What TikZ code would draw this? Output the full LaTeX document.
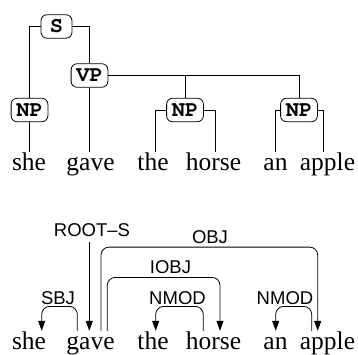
\documentclass[tikz,border=0pt]{standalone}
\usepackage{fontspec}
\setmainfont{Liberation Serif}
\newfontfamily\labfont{Liberation Sans}
\newfontfamily\cursorbold{texgyrecursor-bold.otf}
\newcommand\catfont{\cursorbold\fontsize{22pt}{24pt}\selectfont}
\usetikzlibrary{arrows.meta}
\begin{document}
\begin{tikzpicture}[x=1pt,y=-1pt,
  cat/.style={draw,line width=0.8pt,rounded corners=6pt,minimum height=23.5pt,minimum width=31pt,inner xsep=5.2pt,inner ysep=0pt,font=\catfont},
  word/.style={anchor=base,inner sep=0pt,text height=18pt,text depth=6pt,font=\fontsize{25.5pt}{28pt}\selectfont},
  lab/.style={anchor=base,inner sep=0pt,font=\labfont\fontsize{18.5pt}{20pt}\selectfont},
  tl/.style={line width=0.8pt},
  arr/.style={line width=0.8pt,-{Triangle[length=10pt,width=7pt]},rounded corners=8pt}]
\useasboundingbox (0,0) rectangle (358,354);
% ---------- constituency tree ----------
\node[word] (w1) at (29,170.5) {she};
\node[word] (w2) at (90.5,170.5) {gave};
\node[word] (w3) at (153,170.5) {the};
\node[word] (w4) at (213.5,170.5) {horse};
\node[word] (w5) at (275.5,170.5) {an};
\node[word] (w6) at (327.5,170.5) {apple};
\node[cat] (S) at (56.5,26.5) {S};
\node[cat] (VP) at (89.5,75.5) {VP};
\node[cat] (NP1) at (29.5,110) {NP};
\node[cat] (NP2) at (185,110) {NP};
\node[cat] (NP3) at (299,110) {NP};
\draw[tl] (S.west) -| (NP1.north);
\draw[tl] (S.east) -| (VP.north);
\draw[tl] (VP.east) -| (NP2.north);
\draw[tl] (VP.east) -| (NP3.north);
\draw[tl] (NP1.south) -- (NP1.south |- w1.north);
\draw[tl] (VP.south) -- (VP.south |- w2.north);
\draw[tl] (NP2.west) -| ([xshift=2pt]w3.north);
\draw[tl] (NP2.east) -| ([xshift=2.2pt]w4.north);
\draw[tl] (NP3.west) -| (w5.north);
\draw[tl] (NP3.east) -| ([xshift=-4.2pt]w6.north);
% ---------- dependency tree ----------
\node[word] (d1) at (29,349) {she};
\node[word] (d2) at (90.5,349) {gave};
\node[word] (d3) at (153,349) {the};
\node[word] (d4) at (213.5,349) {horse};
\node[word] (d5) at (275.5,349) {an};
\node[word] (d6) at (327.5,349) {apple};
\node[lab] (root) at (92,236.7) {ROOT–S};
\node[lab] (obj) at (210,243.5) {OBJ};
\node[lab] (iobj) at (170.5,273.3) {IOBJ};
\node[lab] (sbj) at (58,304) {SBJ};
\node[lab] (nmod1) at (177.5,304.3) {NMOD};
\node[lab] (nmod2) at (285,304.3) {NMOD};
\draw[arr] ([xshift=-1.2pt,yshift=-5pt]root.base -| d2.north) -- ([xshift=-1.2pt]d2.north);
\draw[arr] ([xshift=-13.2pt]d2.north) -- ++(0,-24.4) -| ([xshift=12.7pt]d1.north);
\draw[arr] ([xshift=10.5pt]d2.north) -- ++(0,-83.7) -| ([xshift=-9.8pt]d6.north);
\draw[arr] ([xshift=16.8pt]d2.north) -- ++(0,-53.4) -| ([xshift=6.5pt]d4.north);
\draw[arr] ([xshift=-10.2pt]d4.north) -- ++(0,-24.4) -| ([xshift=2.7pt]d3.north);
\draw[arr] ([xshift=-15.8pt]d6.north) -- ++(0,-24.4) -| ([xshift=0.2pt]d5.north);
\end{tikzpicture}
\end{document}
